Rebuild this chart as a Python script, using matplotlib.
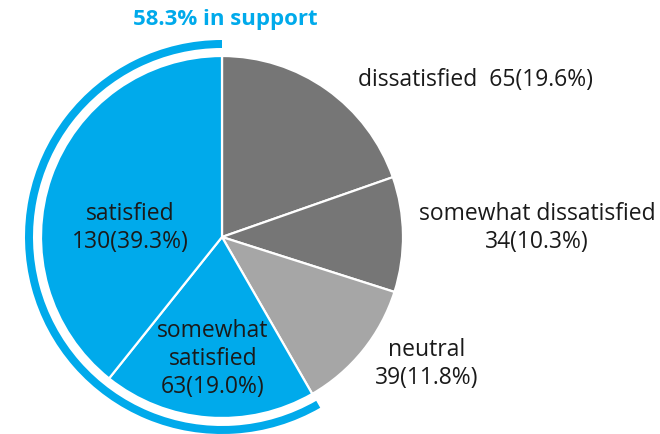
import matplotlib.pyplot as plt
from matplotlib.patches import Wedge

# ---------------------------------------------------------------
# Data
# ---------------------------------------------------------------
categories = ["dissatisfied", "somewhat dissatisfied", "neutral",
              "somewhat satisfied", "satisfied"]
counts = [65, 34, 39, 63, 130]
support_cats = ["somewhat satisfied", "satisfied"]

colors = ["#767676", "#767676", "#a6a6a6", "#00aaeb", "#00aaeb"]
BLUE = "#00aaeb"
TEXT = "#1a1a1a"

total = sum(counts)
pct = [c / total * 100 for c in counts]
support_pct = sum(p for cat, p in zip(categories, pct) if cat in support_cats)

plt.rcParams["font.family"] = ["Open Sans", "DejaVu Sans"]

fig = plt.figure(figsize=(6.6, 4.35), dpi=100)
ax = fig.add_axes([0, 0, 1, 1])

cx, cy, r = 222, 197, 181
ax.pie(counts, colors=colors, startangle=90, counterclock=False,
       center=(cx, cy), radius=r, frame=True,
       wedgeprops=dict(edgecolor="white", linewidth=1.6))
ax.set_xlim(0, 660)
ax.set_ylim(0, 435)
ax.set_aspect("equal")
ax.axis("off")

# support ring around the satisfied slices
ring = Wedge((cx, cy), 197, 90, 90 + 360 * support_pct / 100, width=8,
             facecolor=BLUE, edgecolor="none")
ax.add_patch(ring)

ax.text(225, 415, f"{support_pct:.1f}% in support", color=BLUE,
        fontsize=16, fontweight="bold", ha="center", va="center")

def lab(i):
    return f"{counts[i]}({pct[i]:.1f}%)"

fs = 16.5
ls = 1.2
ax.text(476, 355, f"dissatisfied  {lab(0)}", fontsize=fs, color=TEXT,
        ha="center", va="center")
ax.text(537, 207, f"somewhat dissatisfied\n{lab(1)}", fontsize=fs,
        color=TEXT, ha="center", va="center", linespacing=ls)
ax.text(427, 71, f"neutral\n{lab(2)}", fontsize=fs, color=TEXT,
        ha="center", va="center", linespacing=ls)
ax.text(213, 76, f"somewhat\nsatisfied\n{lab(3)}", fontsize=fs,
        color=TEXT, ha="center", va="center", linespacing=ls)
ax.text(130, 207, f"satisfied\n{lab(4)}", fontsize=fs, color=TEXT,
        ha="center", va="center", linespacing=ls)

fig.savefig("out.png", dpi=100)
